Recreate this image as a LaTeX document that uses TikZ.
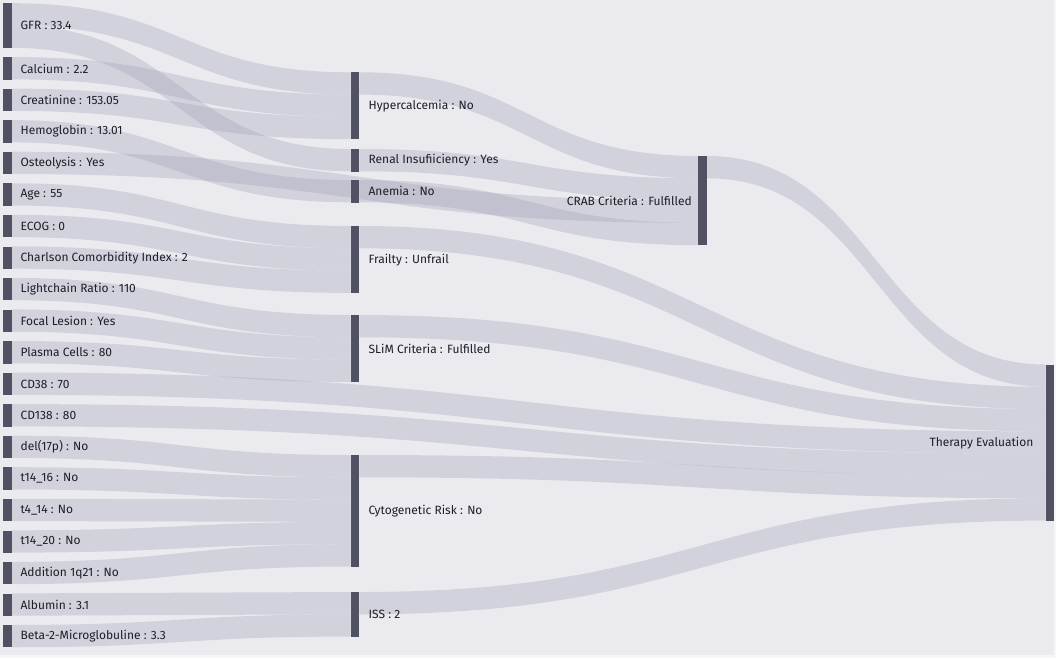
\documentclass[tikz,border=0pt]{standalone}
\usepackage{fontspec}
\setmainfont{Fira Sans}
\usetikzlibrary{positioning, calc, backgrounds}
\definecolor{plotbg}{RGB}{234,234,239}
\definecolor{pagebg}{RGB}{246,246,248}
\definecolor{barcol}{RGB}{80,82,100}
\definecolor{flowcol}{RGB}{160,160,182}
\definecolor{txtcol}{RGB}{28,30,40}
\newcommand{\flowu}{22.3}
\tikzset{
    barnode/.style={
        fill=barcol, minimum width=8.5pt, inner sep=0pt, anchor=north west
    },
    units/.style={
        minimum height=#1*\flowu pt
    },
    lblnode/.style={
        font=\fontsize{12}{14}\selectfont, text=txtcol, inner sep=0pt
    },
    flowband/.style={
        fill=flowcol, fill opacity=0.32
    }
}
% band from #1 (offset #2 units) to #3 (offset #4 units)
\newcommand{\flow}[4]{
    \path (#1.north east) ++(0,-#2*\flowu) coordinate (s1) ++(0,-\flowu) coordinate (s2);
    \path (#3.north west) ++(0,-#4*\flowu) coordinate (t1) ++(0,-\flowu) coordinate (t2);
    \coordinate (m) at ($(s1)!0.5!(t1)$);
    \fill[flowband] (s1) .. controls (m |- s1) and (m |- t1) .. (t1)
        -- (t2) .. controls (m |- t2) and (m |- s2) .. (s2) -- cycle;
}

\begin{document}
\begin{tikzpicture}[x=1pt, y=1pt]
    \useasboundingbox (0,0) rectangle (1056,-658);

    % --- INPUT COLUMN ---
    \node[barnode, units=2] (gfr) at (3,-3.2) {};
    \node[barnode, units=1, below=8.85pt of gfr] (ca) {};
    \node[barnode, units=1, below=8.85pt of ca] (crea) {};
    \node[barnode, units=1, below=8.85pt of crea] (hb) {};
    \node[barnode, units=1, below=8.85pt of hb] (ost) {};
    \node[barnode, units=1, below=8.85pt of ost] (age) {};
    \node[barnode, units=1, below=8.85pt of age] (ecog) {};
    \node[barnode, units=1, below=8.85pt of ecog] (cci) {};
    \node[barnode, units=1, below=8.85pt of cci] (lcr) {};
    \node[barnode, units=1, below=8.85pt of lcr] (focal) {};
    \node[barnode, units=1, below=8.85pt of focal] (pc) {};
    \node[barnode, units=1, below=8.85pt of pc] (cd38) {};
    \node[barnode, units=1, below=8.85pt of cd38] (cd138) {};
    \node[barnode, units=1, below=8.85pt of cd138] (del) {};
    \node[barnode, units=1, below=8.85pt of del] (t1416) {};
    \node[barnode, units=1, below=8.85pt of t1416] (t414) {};
    \node[barnode, units=1, below=8.85pt of t414] (t1420) {};
    \node[barnode, units=1, below=8.85pt of t1420] (add) {};
    \node[barnode, units=1, below=8.85pt of add] (alb) {};
    \node[barnode, units=1, below=8.85pt of alb] (b2m) {};

    \node[lblnode, right=8.5pt of gfr] (gfr-t) {GFR : 33.4};
    \node[lblnode, right=8.5pt of ca] (ca-t) {Calcium : 2.2};
    \node[lblnode, right=8.5pt of crea] (crea-t) {Creatinine : 153.05};
    \node[lblnode, right=8.5pt of hb] (hb-t) {Hemoglobin : 13.01};
    \node[lblnode, right=8.5pt of ost] (ost-t) {Osteolysis : Yes};
    \node[lblnode, right=8.5pt of age] (age-t) {Age : 55};
    \node[lblnode, right=8.5pt of ecog] (ecog-t) {ECOG : 0};
    \node[lblnode, right=8.5pt of cci] (cci-t) {Charlson Comorbidity Index : 2};
    \node[lblnode, right=8.5pt of lcr] (lcr-t) {Lightchain Ratio : 110};
    \node[lblnode, right=8.5pt of focal] (focal-t) {Focal Lesion : Yes};
    \node[lblnode, right=8.5pt of pc] (pc-t) {Plasma Cells : 80};
    \node[lblnode, right=8.5pt of cd38] (cd38-t) {CD38 : 70};
    \node[lblnode, right=8.5pt of cd138] (cd138-t) {CD138 : 80};
    \node[lblnode, right=8.5pt of del] (del-t) {del(17p) : No};
    \node[lblnode, right=8.5pt of t1416] (t1416-t) {t14\_16 : No};
    \node[lblnode, right=8.5pt of t414] (t414-t) {t4\_14 : No};
    \node[lblnode, right=8.5pt of t1420] (t1420-t) {t14\_20 : No};
    \node[lblnode, right=8.5pt of add] (add-t) {Addition 1q21 : No};
    \node[lblnode, right=8.5pt of alb] (alb-t) {Albumin : 3.1};
    \node[lblnode, right=8.5pt of b2m] (b2m-t) {Beta-2-Microglobuline : 3.3};

    % --- MIDDLE COLUMN ---
    \node[barnode, units=3] (hyp) at (350.5,-72.3) {};
    \node[barnode, units=1] (renal) at (350.5,-149) {};
    \node[barnode, units=1] (anemia) at (350.5,-180) {};
    \node[barnode, units=3] (frail) at (350.5,-226) {};
    \node[barnode, units=3] (slim) at (350.5,-315) {};
    \node[barnode, units=5] (cyto) at (350.5,-455) {};
    \node[barnode, units=2] (iss) at (350.5,-592) {};

    \node[lblnode, right=9pt of hyp] (hyp-t) {Hypercalcemia : No};
    \node[lblnode, right=9pt of renal] (renal-t) {Renal Insufiiciency : Yes};
    \node[lblnode, right=9pt of anemia] (anemia-t) {Anemia : No};
    \node[lblnode, right=9pt of frail] (frail-t) {Frailty : Unfrail};
    \node[lblnode, right=9pt of slim] (slim-t) {SLiM Criteria : Fulfilled};
    \node[lblnode, right=9pt of cyto] (cyto-t) {Cytogenetic Risk : No};
    \node[lblnode, right=9pt of iss] (iss-t) {ISS : 2};

    % --- CRAB + THERAPY ---
    \node[barnode, units=4] (crab) at (698,-156) {};
    \node[barnode, units=7] (ther) at (1045.5,-364.5) {};
    \node[lblnode, left=6pt of crab] (crab-t) {CRAB Criteria : Fulfilled};
    \node[lblnode, left=12pt of ther] (ther-t) {Therapy Evaluation};

    % --- FLOWS (behind the bars) ---
    \begin{scope}[on background layer]
        \fill[pagebg] (0,0) rectangle (1056,-658);
        \fill[plotbg] (0,0) rectangle (1054,-655);
        \flow{gfr}{0}{hyp}{0}
        \flow{gfr}{1}{renal}{0}
        \flow{ca}{0}{hyp}{1}
        \flow{crea}{0}{hyp}{2}
        \flow{hb}{0}{anemia}{0}
        \flow{ost}{0}{crab}{2}
        \flow{age}{0}{frail}{0}
        \flow{ecog}{0}{frail}{1}
        \flow{cci}{0}{frail}{2}
        \flow{lcr}{0}{slim}{0}
        \flow{focal}{0}{slim}{1}
        \flow{pc}{0}{slim}{2}
        \flow{cd38}{0}{ther}{3}
        \flow{cd138}{0}{ther}{4}
        \flow{del}{0}{cyto}{0}
        \flow{t1416}{0}{cyto}{1}
        \flow{t414}{0}{cyto}{2}
        \flow{t1420}{0}{cyto}{3}
        \flow{add}{0}{cyto}{4}
        \flow{alb}{0}{iss}{0}
        \flow{b2m}{0}{iss}{1}
        % second stage
        \flow{hyp}{0}{crab}{0}
        \flow{renal}{0}{crab}{1}
        \flow{anemia}{0}{crab}{3}
        \flow{frail}{0}{ther}{1}
        \flow{slim}{0}{ther}{2}
        \flow{cyto}{0}{ther}{5}
        \flow{iss}{0}{ther}{6}
        \flow{crab}{0}{ther}{0}
    \end{scope}
\end{tikzpicture}
\end{document}
